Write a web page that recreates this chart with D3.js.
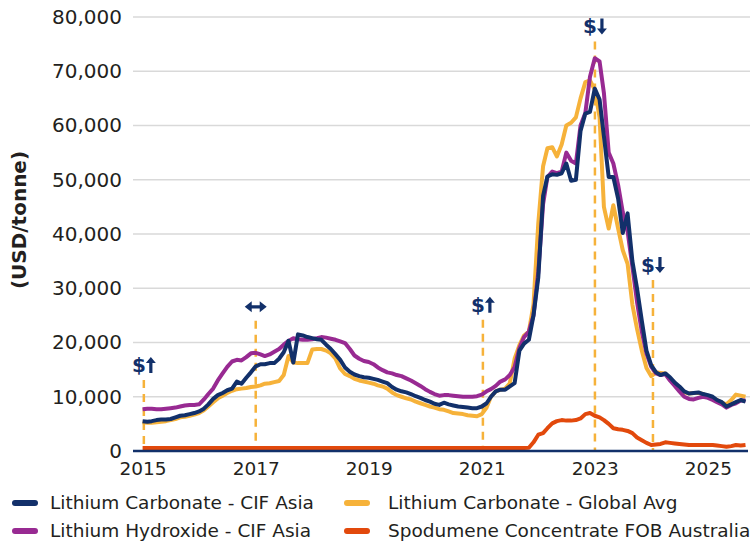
<!DOCTYPE html>
<html>
<head>
<meta charset="utf-8">
<script src="https://cdn.jsdelivr.net/npm/d3@7"></script>
<style>
  body { margin: 0; background: #fff; }
  svg { display: block; font-family: "DejaVu Sans", sans-serif; }
</style>
</head>
<body>
<svg id="chart"></svg>
<script>
var width = 750, height = 547;

// monthly points, Jan 2015 .. Sep 2025
var firstMonth = "2015-01-01";
var lastMonth = "2025-09-01";

var carbonateAsia = [
  5500, 5400, 5500, 5700, 5800, 5800, 5900, 6200, 6500, 6600, 6800, 7000,
  7300, 7800, 8600, 9600, 10300, 10700, 11200, 11500, 12800, 12400, 13500, 14500,
  15600, 16000, 16000, 16200, 16200, 17000, 18200, 20300, 16300, 21500, 21300, 21000,
  20800, 20600, 20500, 19600, 18800, 17800, 16800, 15400, 14600, 14100, 13800, 13600,
  13500, 13300, 13100, 12800, 12500, 11800, 11300, 11000, 10800, 10500, 10100, 9800,
  9400, 9100, 8700, 8500, 8900, 8600, 8400, 8200, 8100, 8000, 7900, 7900,
  8200, 8800, 10000, 11000, 11300, 11300, 11900, 12500, 18500, 19800, 20500, 25000,
  32000, 47000, 50600, 51000, 50900, 51200, 53000, 49800, 50000, 59000, 62200, 62500,
  66800, 64800, 58000, 50500, 50500, 46500, 40200, 43800, 35000, 30000, 24000, 18500,
  15800, 14500, 14000, 14300, 13600, 12600, 11900, 11000, 10600, 10700, 10800, 10500,
  10300, 10000, 9400, 9000, 8200, 8600, 9000, 9400, 9100
];
var carbonateGlobal = [
  5300, 5200, 5200, 5300, 5400, 5500, 5700, 5900, 6200, 6300, 6500, 6700,
  7000, 7500, 8200, 9000, 9700, 10200, 10700, 11100, 11400, 11500, 11600, 11800,
  11900, 12100, 12400, 12500, 12700, 12900, 14000, 17500, 16300, 16200, 16200, 16200,
  18700, 18800, 18800, 18500, 18000, 17000, 15200, 14200, 13800, 13300, 13000, 12800,
  12600, 12400, 12100, 11900, 11500, 10800, 10300, 10000, 9700, 9500, 9100, 8800,
  8500, 8200, 8000, 7700, 7600, 7300, 7000, 6900, 6800, 6600, 6500, 6400,
  6800, 8000, 10000, 11000, 11300, 11500, 12500, 17000, 19500, 21300, 22000, 27000,
  42000, 52500, 55800, 56000, 54300, 56500, 60000, 60500, 61500, 65000, 68000, 68300,
  66600, 61500, 45000, 41000, 45300, 41000, 37000, 34500, 27000, 22500, 18500, 15300,
  13800, 14500, 14400, 14300, 13200, 12300, 11500, 10800, 10600, 10700, 10700, 10500,
  10000, 9700, 9400, 8900, 8600, 9400, 10400, 10200, 10000
];
var hydroxideAsia = [
  7700, 7800, 7800, 7700, 7700, 7800, 7900, 8000, 8200, 8400, 8500, 8500,
  8600, 9500, 10500, 11500, 13000, 14300, 15500, 16500, 16800, 16700, 17300, 18000,
  18100, 17800, 17500, 17800, 18300, 18800, 19600, 20300, 20800, 20600, 20500, 20500,
  20600, 20800, 21000, 20900, 20700, 20500, 20200, 19900, 18800, 17600, 17000, 16600,
  16400, 16000, 15400, 14900, 14500, 14300, 14000, 13800, 13400, 13000, 12500, 12000,
  11400, 10900, 10500, 10200, 10300, 10300, 10200, 10100, 10000, 10000, 10000, 10100,
  10400, 11000, 11400, 12000, 12800, 13200, 14000, 15500, 19000, 21000, 22000, 25000,
  33000, 45500, 50500, 51500, 51200, 51500, 55000, 53500, 53000, 60000, 62300, 69000,
  72400, 71800, 66000, 55000, 53000, 49000, 44000, 40500, 34000, 27500, 22000, 18000,
  15500, 14300, 14000, 14200, 13000, 12000, 11000, 10000, 9600, 9500, 9800, 10000,
  9800, 9400, 9000, 8600, 8000, 8500, 8800, 9300, 9300
];
var spodumeneFob = [
  550, 550, 550, 550, 550, 550, 550, 550, 550, 550, 550, 550,
  550, 550, 550, 550, 550, 550, 550, 550, 550, 550, 550, 550,
  550, 550, 550, 550, 550, 550, 550, 550, 550, 550, 550, 550,
  550, 550, 550, 550, 550, 550, 550, 550, 550, 550, 550, 550,
  550, 550, 550, 550, 550, 550, 550, 550, 550, 550, 550, 550,
  550, 550, 550, 550, 550, 550, 550, 550, 550, 550, 550, 550,
  550, 550, 550, 550, 550, 550, 550, 550, 550, 550, 600, 1600,
  3000, 3300, 4200, 5100, 5500, 5700, 5600, 5600, 5700, 6000, 6800, 7000,
  6500, 6200, 5700, 5000, 4200, 4000, 3900, 3700, 3300, 2500, 2000, 1500,
  1100, 1200, 1300, 1600, 1500, 1400, 1300, 1200, 1100, 1100, 1100, 1100,
  1100, 1100, 1000, 900, 800, 900, 1100, 1000, 1100
];

var seriesNames = ["Lithium Carbonate - CIF Asia", "Lithium Carbonate - Global Avg",
                   "Lithium Hydroxide - CIF Asia", "Spodumene Concentrate FOB Australia"];
var seriesColors = ["#12306a", "#f6b23a", "#982a92", "#e2490c"];

var yTicks = [0, 10000, 20000, 30000, 40000, 50000, 60000, 70000, 80000];
var xTickYears = [2015, 2017, 2019, 2021, 2023, 2025];

// policy markers: date, top of dashed line (USD/t), symbol
var markerDates = ["2015-01-09", "2017-01-01", "2021-01-08", "2023-01-02", "2024-01-12"];
var markerTops = [13100, 24000, 24200, 75500, 31500];
var markerKinds = ["up", "both", "up", "down", "down"];

var parse = d3.timeParse("%Y-%m-%d");
var months = d3.timeMonth.range(parse(firstMonth), d3.timeMonth.offset(parse(lastMonth), 1));

var margin = {top: 17, left: 133, right: 2, bottom: 96};
var navy = seriesColors[0];

var x = d3.scaleTime()
    .domain([parse(firstMonth), parse(lastMonth)])
    .range([142.6, 745.5]);

var y = d3.scaleLinear()
    .domain([0, 80000])
    .range([height - margin.bottom, margin.top]);

var svg = d3.select("#chart")
    .attr("width", width)
    .attr("height", height);

// grid + y labels
var yAxis = svg.append("g")
    .attr("transform", `translate(${margin.left},0)`)
    .call(d3.axisLeft(y).tickValues(yTicks).tickSize(0).tickPadding(11)
        .tickFormat(d3.format(",")));
yAxis.select(".domain").remove();
yAxis.selectAll("text")
    .attr("font-size", 20)
    .attr("fill", "#231f20")
    .attr("font-family", "DejaVu Sans");

svg.append("g").selectAll("line")
    .data(yTicks.filter(function(d) { return d > 0; }))
    .enter().append("line")
    .attr("x1", margin.left).attr("x2", width)
    .attr("y1", function(d) { return y(d); })
    .attr("y2", function(d) { return y(d); })
    .attr("stroke", "#d9d9d9")
    .attr("stroke-width", 1.5);

// x labels
var xAxis = svg.append("g")
    .attr("transform", `translate(0,${y(0)})`)
    .call(d3.axisBottom(x)
        .tickValues(xTickYears.map(function(d) { return new Date(d, 0, 1); }))
        .tickSize(0).tickPadding(11)
        .tickFormat(d3.timeFormat("%Y")));
xAxis.select(".domain").remove();
xAxis.selectAll("text")
    .attr("font-size", 18.5)
    .attr("fill", "#231f20")
    .attr("font-family", "DejaVu Sans");

// y title
svg.append("text")
    .attr("transform", "translate(26,220) rotate(-90)")
    .attr("text-anchor", "middle")
    .attr("font-size", 20)
    .attr("font-weight", "bold")
    .attr("fill", "#231f20")
    .text("(USD/tonne)");

// dashed markers
var markers = markerDates.map(function(d, i) {
    return {date: parse(d), top: markerTops[i], kind: markerKinds[i]};
});

svg.append("g").selectAll("line")
    .data(markers)
    .enter().append("line")
    .attr("x1", function(d) { return x(d.date); })
    .attr("x2", function(d) { return x(d.date); })
    .attr("y1", function(d) { return y(d.top); })
    .attr("y2", y(0))
    .attr("stroke", "#f6b23a")
    .attr("stroke-width", 2.5)
    .attr("stroke-dasharray", "8,6");

// price lines
var line = d3.line()
    .x(function(d) { return x(d.date); })
    .y(function(d) { return y(d.value); });

var seriesValues = [carbonateAsia, carbonateGlobal, hydroxideAsia, spodumeneFob];
var drawOrder = [3, 1, 2, 0];

svg.append("g").selectAll("path")
    .data(drawOrder)
    .enter().append("path")
    .attr("fill", "none")
    .attr("stroke", function(i) { return seriesColors[i]; })
    .attr("stroke-width", 4)
    .attr("stroke-linejoin", "round")
    .attr("d", function(i) {
        return line(seriesValues[i].map(function(v, j) {
            return {date: months[j], value: v};
        }));
    });

// baseline
svg.append("line")
    .attr("x1", margin.left).attr("x2", 748)
    .attr("y1", y(0)).attr("y2", y(0))
    .attr("stroke", navy)
    .attr("stroke-width", 2.5);

// marker labels: "$" with arrow icon
var upArrow = "M0,-8 L5,-2 L1.6,-2 L1.6,8 L-1.6,8 L-1.6,-2 L-5,-2 Z";
var downArrow = "M0,8 L5,2 L1.6,2 L1.6,-8 L-1.6,-8 L-1.6,2 L-5,2 Z";
var bothArrow = "M-11,0 L-4,-5.5 L-4,-1.6 L4,-1.6 L4,-5.5 L11,0 L4,5.5 L4,1.6 L-4,1.6 L-4,5.5 Z";

var labelG = svg.append("g");
markers.forEach(function(d) {
    var cx = x(d.date), cy = y(d.top) - 15;
    if (d.kind === "both") {
        labelG.append("path")
            .attr("transform", `translate(${cx},${cy + 1})`)
            .attr("d", bothArrow)
            .attr("fill", navy);
    } else {
        labelG.append("text")
            .attr("x", cx - 5)
            .attr("y", cy + 7)
            .attr("text-anchor", "middle")
            .attr("font-size", 20)
            .attr("font-weight", "bold")
            .attr("fill", navy)
            .text("$");
        labelG.append("path")
            .attr("transform", `translate(${cx + 7},${cy})`)
            .attr("d", d.kind === "up" ? upArrow : downArrow)
            .attr("fill", navy);
    }
});

// legend
var legendX = [12, 344];
var textX = [38, 44];
var legendY = [503, 531];
var legendOrder = [0, 1, 2, 3];
var legend = svg.append("g").selectAll("g")
    .data(legendOrder)
    .enter().append("g")
    .attr("transform", function(d, i) {
        return `translate(${legendX[i % 2]},${legendY[Math.floor(i / 2)]})`;
    });
legend.append("line")
    .attr("x1", 3).attr("x2", 23)
    .attr("stroke", function(d) { return seriesColors[d]; })
    .attr("stroke-width", 6)
    .attr("stroke-linecap", "round");
legend.append("text")
    .attr("x", function(d, i) { return textX[i % 2]; })
    .attr("dy", "0.35em")
    .attr("font-size", 18.5)
    .attr("fill", "#231f20")
    .text(function(d) { return seriesNames[d]; });
</script>
</body>
</html>
